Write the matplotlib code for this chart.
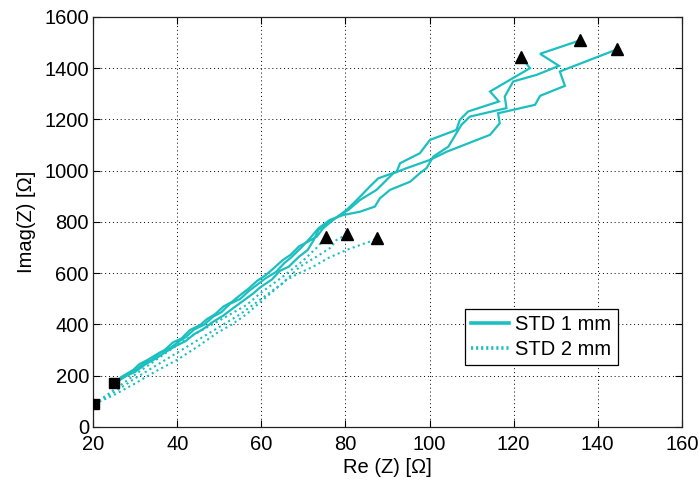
import matplotlib
matplotlib.use("Agg")
import matplotlib.pyplot as plt
from matplotlib.lines import Line2D

plt.rcParams['font.family'] = ['Liberation Sans', 'DejaVu Sans']

# ---- data ----
# STD 1 mm (solid) traces
s1_x = [25, 27, 29.5, 31, 33, 35.5, 37, 39, 41, 43, 45.5, 47, 49, 51, 53, 55, 57, 59, 61, 63, 65, 67, 69, 71, 73.2,
        74.7, 77.1, 80.3, 83.1, 85.8, 87.8, 92.2, 93.0, 97.7, 100.1, 106.4, 107.2, 109.2, 116.5, 114.4, 123.9, 121.7]
s1_y = [170, 198, 222, 245, 262, 287, 300, 330, 345, 378, 398, 420, 440, 470, 488, 515, 540, 570, 592, 620, 650, 672, 705, 722, 743,
        775, 808, 847, 892, 938, 970, 996, 1029, 1068, 1120, 1159, 1198, 1231, 1270, 1309, 1400, 1445]

s2_x = [25, 27.5, 30, 32, 34, 36, 38.5, 40.5, 42, 44, 46.5, 48.5, 50.5, 52.5, 55, 57, 59, 61, 63.5, 65.5, 67, 69.5, 71.5, 73.6,
        76.3, 79.5, 83.5, 87.0, 88.2, 90.6, 95.4, 97.7, 99.3, 100.9, 104.5, 107.6, 109.6, 118.3, 117.9, 119.9, 125.5, 130.8, 126.3, 135.9]
s2_y = [170, 198, 220, 248, 262, 290, 310, 335, 350, 380, 400, 430, 448, 480, 500, 530, 555, 580, 605, 640, 660, 700, 735, 775,
        808, 827, 840, 860, 892, 925, 957, 990, 1010, 1055, 1094, 1179, 1211, 1244, 1289, 1348, 1374, 1409, 1456, 1509]

s3_x = [25, 28, 30, 32.5, 35, 37, 39.5, 42, 44, 46, 48.5, 51, 53, 55.5, 58, 60, 62.5, 64.5, 66.5, 69, 71, 72.5, 73.6,
        76.3, 80.7, 83.5, 87.4, 91.4, 94.6, 100.1, 104.1, 114.4, 116.7, 116.3, 125.1, 126.3, 132.2, 131.0, 144.7]
s3_y = [170, 200, 215, 245, 268, 290, 315, 335, 362, 380, 410, 435, 460, 490, 520, 548, 575, 610, 625, 665, 690, 730, 769,
        801, 847, 886, 925, 990, 1010, 1042, 1074, 1140, 1185, 1224, 1257, 1292, 1331, 1387, 1474]

# STD 2 mm (dotted) traces
d1_x = [20.3, 25, 30.4, 35, 40, 45, 50, 56.5, 60, 65, 70, 73.2, 75.5]
d1_y = [90, 145, 209, 262, 320, 370, 415, 476, 525, 585, 650, 700, 742]

d2_x = [20.3, 25, 30, 35, 40, 45, 50, 55, 60, 65, 69.2, 73.2, 76.5, 77.9, 80.4]
d2_y = [90, 135, 190, 240, 290, 340, 390, 440, 500, 560, 626, 665, 700, 730, 752]

d3_x = [20.3, 25, 30, 35, 40, 45, 49.4, 53, 56.5, 61.3, 66, 69, 72.4, 76, 80.3, 83.5, 86.6, 87.4]
d3_y = [90, 125, 170, 218, 262, 315, 366, 400, 440, 509, 574, 600, 626, 660, 691, 710, 728, 739]

start_x = [20.3, 25.0]
start_y = [90, 170]
end_x = [121.7, 135.9, 144.7, 75.5, 80.4, 87.4]
end_y = [1445, 1509, 1474, 742, 752, 739]

legend_labels = ['STD 1 mm', 'STD 2 mm']
xticks = [20, 40, 60, 80, 100, 120, 140, 160]
yticks = [0, 200, 400, 600, 800, 1000, 1200, 1400, 1600]

# ---- plot ----
color = '#1CBFBF'
fs = 14.5
fig = plt.figure(figsize=(7.0, 4.83), dpi=100)
ax = fig.add_axes([0.133, 0.116, 0.841, 0.849])

for xs, ys in [(s1_x, s1_y), (s2_x, s2_y), (s3_x, s3_y)]:
    ax.plot(xs, ys, color=color, lw=1.6, solid_joinstyle='miter')
for xs, ys in [(d1_x, d1_y), (d2_x, d2_y), (d3_x, d3_y)]:
    ax.plot(xs, ys, color=color, lw=1.5, linestyle=(0, (1, 1.6)))

ax.plot(start_x, start_y, 's', color='black', markersize=7, zorder=5)
ax.plot(end_x, end_y, '^', color='black', markersize=8, zorder=5)

ax.set_xlim(20, 160)
ax.set_ylim(0, 1600)
ax.set_xticks(xticks)
ax.set_yticks(yticks)
ax.tick_params(direction='in', length=5, width=0.8, top=True, right=True,
               labelsize=fs, colors='black')
ax.tick_params(axis='x', pad=6)
ax.tick_params(axis='y', pad=3)
ax.grid(True, color='black', linestyle=(0, (1, 3)), linewidth=0.7)
for sp in ax.spines.values():
    sp.set_linewidth(0.9)
    sp.set_color('#222222')

ax.set_xlabel('Re (Z) [Ω]', fontsize=fs, labelpad=3)
ax.set_ylabel('Imag(Z) [Ω]', fontsize=fs, labelpad=6)

handles = [Line2D([], [], color=color, lw=2.6),
           Line2D([], [], color=color, lw=2.6, linestyle=(0, (0.6, 0.8)))]
leg = ax.legend(handles, legend_labels, loc='upper right', bbox_to_anchor=(0.891, 0.288),
                fontsize=fs, frameon=True, fancybox=False, edgecolor='black',
                handlelength=1.9, borderpad=0.3, labelspacing=0.3, handletextpad=0.3,
                borderaxespad=0)
leg.get_frame().set_linewidth(0.9)
leg.get_frame().set_alpha(1)

fig.savefig('out.png', dpi=100)
